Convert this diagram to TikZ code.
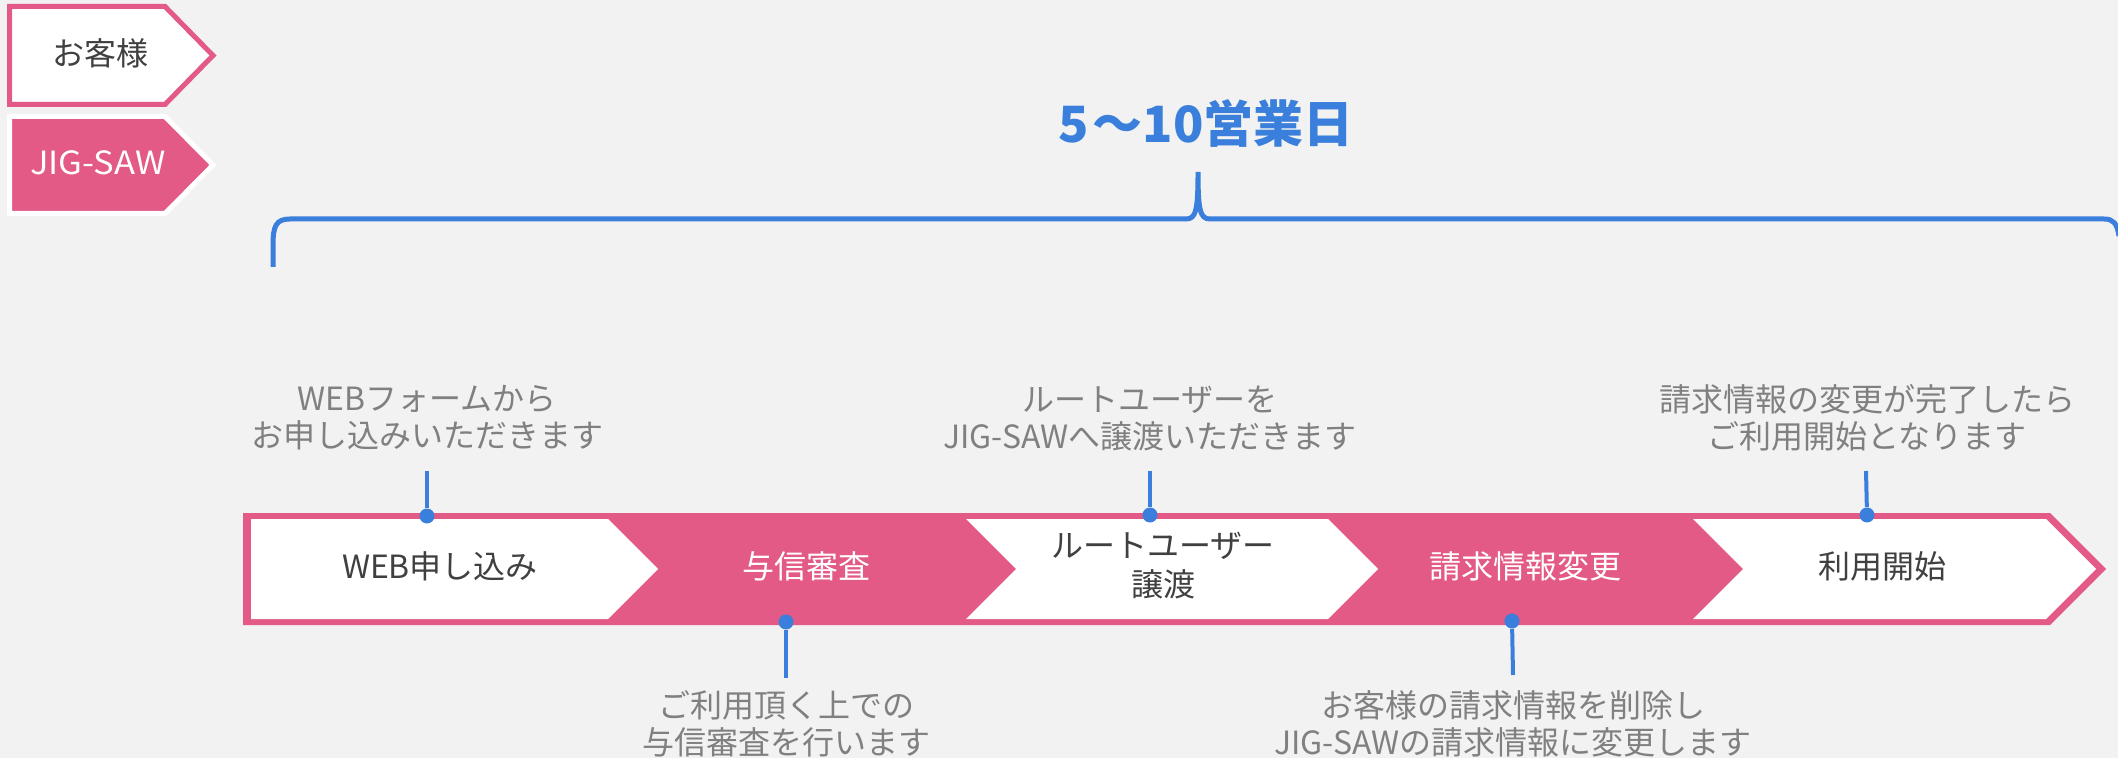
\documentclass[tikz,border=0pt]{standalone}
\usepackage{fontspec}
\setmainfont{Noto Sans CJK JP}
\definecolor{pinkc}{HTML}{E25A85}
\definecolor{bluec}{HTML}{3A7FDB}
\definecolor{bgc}{HTML}{F2F2F2}
\definecolor{darkt}{HTML}{404040}
\definecolor{grayt}{HTML}{808080}
\begin{document}
\begin{tikzpicture}[x=0.5pt,y=-0.5pt,
  lbl/.style={font=\fontsize{16}{19.5}\selectfont, align=center, inner sep=0pt},
  note/.style={lbl, text=grayt, font=\fontsize{16}{18.5}\selectfont},
  conn/.style={draw=bluec, line width=2pt},
  dot/.style={circle, fill=bluec, inner sep=0pt, minimum size=7.5pt},
  brace/.style={draw=bluec, line width=2.5pt, line cap=butt},
]
\fill[bgc] (0,0) rectangle (2118,758);
\useasboundingbox (0,0) rectangle (2118,758);

% legend
\draw[pinkc, fill=white, line width=2.5pt] (9.5,6.5) -- (165,6.5) -- (213,55.5) -- (165,104.5) -- (9.5,104.5) -- cycle;
\node[lbl, text=darkt] (leg1) at (100,53) {お客様};
\draw[white, fill=pinkc, line width=2.5pt] (9.5,116.5) -- (165,116.5) -- (213,165) -- (165,213.5) -- (9.5,213.5) -- cycle;
\node[lbl, text=white, xscale=1.08] (leg2) at (98,163) {JIG-SAW};

% title and brace
\node[inner sep=0pt, text=bluec, font=\fontsize{25}{28}\selectfont\bfseries] (title) at (1206,123) {5\hspace{2pt}～10営業日};
\draw[brace] (273,267) -- (273,245) .. controls (273,226) and (276,219) .. (290,219)
  -- (1186,219) .. controls (1196,219) and (1198,210) .. (1198,172)
  .. controls (1198,210) and (1200,219) .. (1210,219)
  -- (2104,219) .. controls (2113,219) and (2117,223) .. (2119,236);

% band
\fill[pinkc] (243,513) -- (2050,513) -- (2106,569) -- (2050,625) -- (243,625) -- cycle;
\fill[white] (251,519) -- (608,519) -- (658,569) -- (608,619) -- (251,619) -- cycle;
\fill[white] (966,519) -- (1328,519) -- (1378,569) -- (1328,619) -- (966,619) -- (1016,569) -- cycle;
\fill[white] (1693,519) -- (2046,519) -- (2096,569) -- (2046,619) -- (1693,619) -- (1743,569) -- cycle;

\node[lbl, text=darkt] (s1) at (440,566) {WEB申し込み};
\node[lbl, text=white] (s2) at (806,566) {与信審査};
\node[lbl, text=darkt] (s3) at (1163,566) {ルートユーザー\\譲渡};
\node[lbl, text=white] (s4) at (1525,566) {請求情報変更};
\node[lbl, text=darkt] (s5) at (1882,566) {利用開始};

% notes
\node[note] (n1) at (427,418) {WEBフォームから\\お申し込みいただきます};
\node[note] (n2) at (786,724) {ご利用頂く上での\\与信審査を行います};
\node[note] (n3) at (1150,418) {ルートユーザーを\\JIG-SAWへ譲渡いただきます};
\node[note] (n4) at (1513,724) {お客様の請求情報を削除し\\JIG-SAWの請求情報に変更します};
\node[note] (n5) at (1867,418) {請求情報の変更が完了したら\\ご利用開始となります};

% connectors
\coordinate (t1) at (427,471);
\coordinate (t2) at (786,678);
\coordinate (t3) at (1150,471);
\coordinate (t4) at (1513,675);
\coordinate (t5) at (1866,471);
\node[dot] (d1) at (427,516) {};
\node[dot] (d2) at (786,622) {};
\node[dot] (d3) at (1150,515) {};
\node[dot] (d4) at (1512,621) {};
\node[dot] (d5) at (1867,515) {};
\draw[conn] (d1) -- (t1);
\draw[conn] (d2) -- (t2);
\draw[conn] (d3) -- (t3);
\draw[conn] (d4) -- (t4);
\draw[conn] (d5) -- (t5);
\end{tikzpicture}
\end{document}
